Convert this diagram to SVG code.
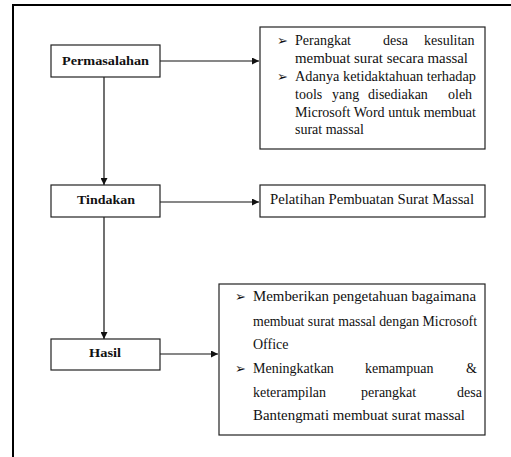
<svg xmlns="http://www.w3.org/2000/svg" width="511" height="457" viewBox="0 0 511 457">
<style>
.box{fill:#fff;stroke:#222;stroke-width:1.2}
.lbl{font-family:"Liberation Serif","Times New Roman","DejaVu Serif",serif;font-size:13.5px;font-weight:bold;fill:#111}
.t{font-family:"Liberation Serif","Times New Roman","DejaVu Serif",serif;font-size:14px;fill:#111}
.b{font-family:"DejaVu Sans",sans-serif;font-size:13px;fill:#111}
.c{stroke:#111;stroke-width:1.2;fill:none}
</style>
<defs>
<marker id="ah" viewBox="0 0 8 8" refX="8" refY="4" markerWidth="7" markerHeight="7" markerUnits="userSpaceOnUse" orient="auto">
<path d="M0,0 L8,4 L0,8 Z" fill="#111"/>
</marker>
</defs>
<rect width="511" height="457" fill="#fff"/>
<g id="frame">
<path d="M13,457 V5 H511" fill="none" stroke="#000" stroke-width="2"/>
</g>
<g id="connectors">
<line class="c" x1="160" y1="61" x2="259" y2="61" marker-end="url(#ah)"/>
<line class="c" x1="104" y1="77" x2="104" y2="185" marker-end="url(#ah)"/>
<line class="c" x1="160" y1="202" x2="259" y2="202" marker-end="url(#ah)"/>
<line class="c" x1="104" y1="217" x2="104" y2="339" marker-end="url(#ah)"/>
<line class="c" x1="160" y1="354" x2="218" y2="354" marker-end="url(#ah)"/>
</g>
<g id="permasalahan">
<rect class="box" x="51" y="45" width="109" height="32"/>
<text class="lbl" x="105.5" y="64.5" text-anchor="middle" textLength="87" lengthAdjust="spacingAndGlyphs">Permasalahan</text>
</g>
<g id="tindakan">
<rect class="box" x="51" y="185" width="109" height="32"/>
<text class="lbl" x="106" y="203.5" text-anchor="middle" textLength="58" lengthAdjust="spacingAndGlyphs">Tindakan</text>
</g>
<g id="hasil">
<rect class="box" x="51" y="339" width="109" height="31"/>
<text class="lbl" x="105" y="356.5" text-anchor="middle" textLength="32" lengthAdjust="spacingAndGlyphs">Hasil</text>
</g>
<g id="masalah-detail">
<rect class="box" x="260" y="27" width="225" height="122"/>
<text class="b" x="277" y="44.5">➢</text>
<text class="t" y="44.5"><tspan x="295">Perangkat</tspan><tspan x="383">desa</tspan><tspan x="424">kesulitan</tspan></text>
<text class="t" x="295" y="62.5" textLength="173" lengthAdjust="spacingAndGlyphs">membuat surat secara massal</text>
<text class="b" x="277" y="80.5">➢</text>
<text class="t" x="295" y="80.5" textLength="181" lengthAdjust="spacingAndGlyphs">Adanya ketidaktahuan terhadap</text>
<text class="t" y="98.5"><tspan x="295">tools</tspan><tspan x="332">yang</tspan><tspan x="368">disediakan</tspan><tspan x="448">oleh</tspan></text>
<text class="t" x="295" y="116.5" textLength="181" lengthAdjust="spacingAndGlyphs">Microsoft Word untuk membuat</text>
<text class="t" x="295" y="134">surat massal</text>
</g>
<g id="tindakan-detail">
<rect class="box" x="260" y="185" width="225" height="32"/>
<text class="t" x="270" y="204" textLength="204" lengthAdjust="spacingAndGlyphs">Pelatihan Pembuatan Surat Massal</text>
</g>
<g id="hasil-detail">
<rect class="box" x="219" y="284" width="266" height="151"/>
<text class="b" x="235" y="300.5">➢</text>
<text class="t" x="253" y="300.5" textLength="223" lengthAdjust="spacingAndGlyphs">Memberikan pengetahuan bagaimana</text>
<text class="t" x="253" y="325.5" textLength="224" lengthAdjust="spacingAndGlyphs">membuat surat massal dengan Microsoft</text>
<text class="t" x="253" y="349">Office</text>
<text class="b" x="235" y="372.5">➢</text>
<text class="t" y="372.5"><tspan x="253">Meningkatkan</tspan><tspan x="365">kemampuan</tspan><tspan x="466">&amp;</tspan></text>
<text class="t" y="396.5"><tspan x="253">keterampilan</tspan><tspan x="361">perangkat</tspan><tspan x="457">desa</tspan></text>
<text class="t" x="253" y="420" textLength="212" lengthAdjust="spacingAndGlyphs">Bantengmati membuat surat massal</text>
</g>
</svg>
